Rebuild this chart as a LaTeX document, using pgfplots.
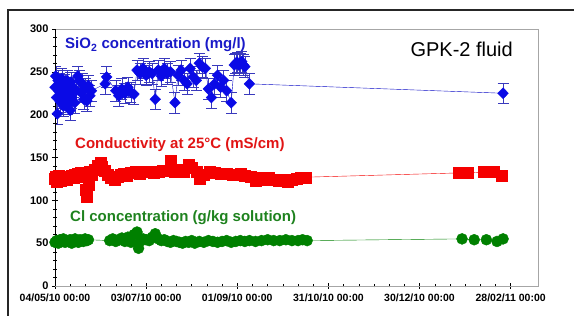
\documentclass[border=0pt]{standalone}
\usepackage{pgfplots}
\pgfplotsset{compat=1.18}
\usepackage{fontspec}
\setmainfont{Liberation Sans}
\definecolor{sblue}{RGB}{10,10,230}
\definecolor{tblue}{RGB}{25,25,200}
\definecolor{sred}{RGB}{245,0,0}
\definecolor{tred}{RGB}{225,20,20}
\definecolor{sgreen}{RGB}{0,128,0}
\definecolor{tgreen}{RGB}{30,130,30}
\begin{document}
\begin{tikzpicture}
\path[use as bounding box] (0pt,0pt) rectangle (574pt,316pt);
\draw[line width=2pt,black!85] (574pt,306pt) -- (8pt,306pt) -- (8pt,0pt);
\begin{axis}[
  at={(55pt,30pt)}, anchor=south west, scale only axis,
  width=483pt, height=257pt,
  xmin=0, xmax=318, ymin=0, ymax=300,
  xtick={0,60,120,180,240,300},
  xticklabels={04/05/10 00:00,03/07/10 00:00,01/09/10 00:00,31/10/10 00:00,30/12/10 00:00,28/02/11 00:00},
  minor x tick num=5,
  ytick={0,50,100,150,200,250,300},
  minor y tick num=4,
  tick pos=left,
  tick align=center,
  major tick length=6pt, minor tick length=3pt,
  tick style={black, thin},
  axis line style={gray!70, thin},
  /pgf/number format/assume math mode=true,
  xticklabel style={font=\fontsize{10.5}{12}\selectfont\bfseries, yshift=-1pt},
  yticklabel style={font=\fontsize{11}{13}\selectfont\bfseries},
]
% SiO2
\addplot[sblue!85!black, thin, mark=diamond*, mark size=5.5pt, mark options={solid, fill=sblue, draw=sblue, xscale=1.3},
  error bars/.cd, y dir=both, y fixed=12, error bar style={sblue!60!gray, thin}]
  table {
0 232
0.5 245
1 220
1.5 201
2 240
2.5 228
3 236
3.5 215
4 225
4.5 242
5 230
5.5 210
6 222
6.5 235
7 218
7.5 226
8 240
8.5 212
9 230
9.5 224
10 205
10.5 238
11 220
12 232
13 214
14 228
15 245
16 240
17 226
18 236
19 218
20 230
21 216
22 234
23 222
24 228
33 236
34 244
40 228
42 222
44 230
46 225
48 232
50 226
52 224
54 252
56 248
58 254
60 246
62 250
64 248
66 218
68 252
70 245
72 254
74 248
76 250
79 214
81 246
83 252
85 240
87 236
89 254
91 244
93 240
95 260
97 256
99 254
101 230
103 220
105 236
107 246
109 232
111 240
113 228
116 214
118 258
119 260
120 261
121 258
122 260
123 262
124 258
125 256
128 236
295 225
};
% Conductivity
\addplot[sred, thin, mark=square*, mark size=5.5pt, mark options={solid, fill=sred, draw=sred}]
  table {
0 125
0.5 128
1 122
1.5 127
2 124
2.5 129
3 126
4 123
5 127
6 125
7 128
8 124
9 127
10 126
11 129
12 127
13 130
14 128
15 131
16 129
17 132
18 130
19 128
20 112
21 104
22 118
23 133
24 130
26 136
28 140
30 144
31 139
33 135
35 130
37 126
39 124
41 128
43 130
45 131
47 129
50 132
53 133
56 131
59 133
62 134
65 132
68 134
71 135
76 146
79 133
82 136
85 134
88 142
90 138
93 133
95 125
98 130
102 134
105 132
109 131
113 131
117 130
122 131
125 129
129 128
132 123
135 127
138 124
141 126
144 124
147 123
150 124
153 122
156 124
159 125
162 127
165 127
266 132
272 132
282 133
289 133
294 129
};
% Cl
\addplot[sgreen, thin, mark=*, mark size=5.5pt, mark options={solid, fill=sgreen, draw=sgreen}]
  table {
0 51
1.1 53
2.2 50
3.3 54
4.4 52
5.5 55
6.6 51
7.7 53
8.8 52
9.9 54
11 50
12.1 53
13.2 55
14.3 52
15.4 51
16.5 54
17.6 53
18.7 52
19.8 55
21 53
22 54
36 53
38 55
40 52
42 54
44 56
46 52
48 57
50 51
52 60
54 63
55 44
56 52
58 55
60 54
62 53
64 57
66 61
68 55
70 53
72 54
74 52
76 51
78 53
80 52
82 51
84 50
86 52
88 51
90 53
92 50
95 52
98 51
101 53
104 52
107 51
110 52
113 53
116 51
119 52
122 53
125 52
128 53
132 52
136 53
140 54
144 53
148 53
152 54
156 53
160 53
163 54
166 53
268 55
276 54
284 54
291 52
295 55
};
\draw[black, thin] (rel axis cs:0,1) -- (rel axis cs:0,0) -- (rel axis cs:1,0);
\end{axis}
\node[anchor=base west, inner sep=0pt, text=tblue, font=\fontsize{15}{17}\selectfont\bfseries] at (65pt,267pt) {SiO\textsubscript{2} concentration (mg/l)};
\node[anchor=base west, inner sep=0pt, text=tred, font=\fontsize{15}{17}\selectfont\bfseries] at (75pt,167pt) {Conductivity at 25°C (mS/cm)};
\node[anchor=base west, inner sep=0pt, text=tgreen, font=\fontsize{15}{17}\selectfont\bfseries] at (70pt,94pt) {Cl concentration (g/kg solution)};
\node[anchor=base east, inner sep=0pt, text=black, font=\fontsize{20}{24}\selectfont] at (513pt,259pt) {GPK-2 fluid};
\end{tikzpicture}
\end{document}
